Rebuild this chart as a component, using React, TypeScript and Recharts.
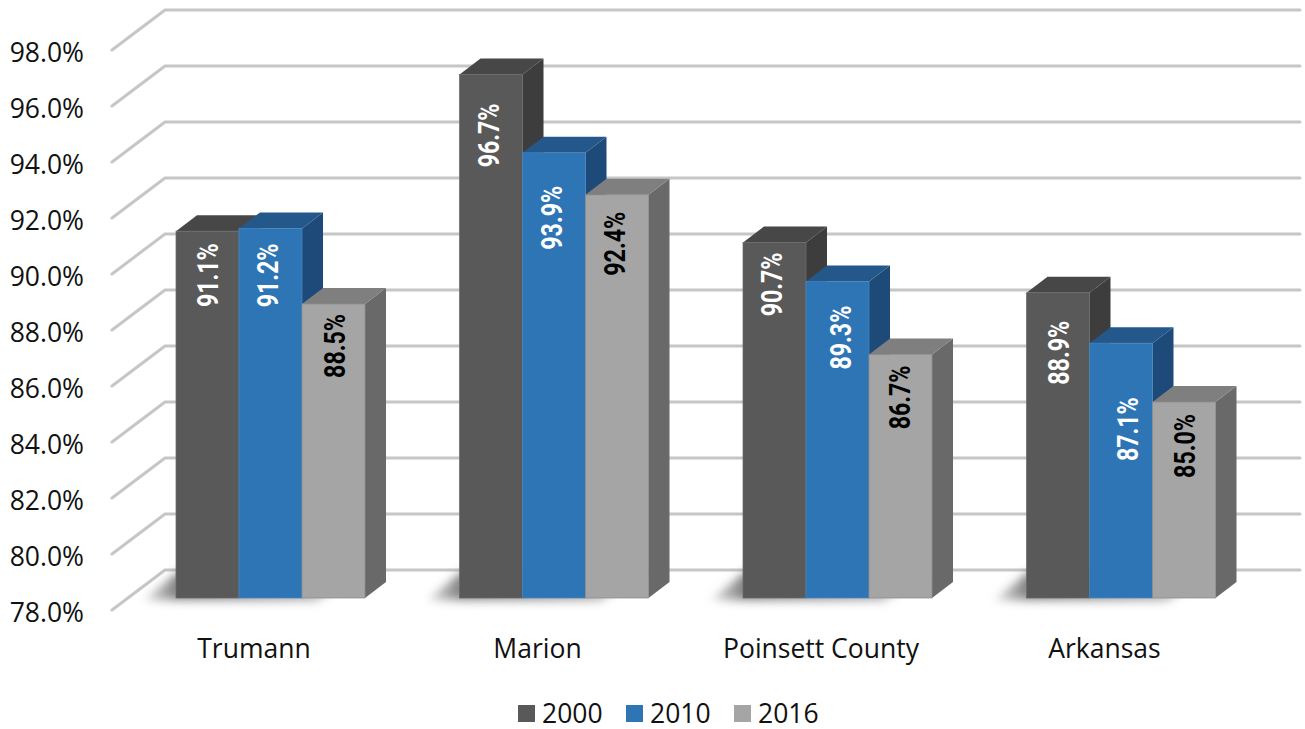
import React from 'react'
import { BarChart, Bar, XAxis, YAxis, CartesianGrid, Legend, LabelList } from 'recharts'

const regions = ['Trumann', 'Marion', 'Poinsett County', 'Arkansas']
const values2000 = [91.1, 96.7, 90.7, 88.9]
const values2010 = [91.2, 93.9, 89.3, 87.1]
const values2016 = [88.5, 92.4, 86.7, 85.0]
const yTicks = [78, 80, 82, 84, 86, 88, 90, 92, 94, 96, 98]

const chartData = regions.map((region, i) => ({
    region,
    y2000: values2000[i],
    y2010: values2010[i],
    y2016: values2016[i],
}))

// extrusion of each bar and of the back wall
const DEPTH_X = 21
const DEPTH_Y = 16
const FONT = '"Open Sans", sans-serif'

// hand-placed value labels: distance below the bar top, shift from the bar centre
const labelInset2000 = [11, 28, 9, 27]
const labelInset2010 = [14, 32, 23, 53]
const labelInset2016 = [9, 16, 10, 11]
const labelShift2000 = [0.5, -2.5, -2.5, 1]
const labelShift2010 = [-3, -2.5, 3.5, 6.5]
const labelShift2016 = [1, -2, -1, 1]

const palette2000 = { front: '#595959', top: '#474747', side: '#3d3d3d', edge: '#6b6b6b' }
const palette2010 = { front: '#2e75b6', top: '#25588a', side: '#1d4a78', edge: '#4a86bd' }
const palette2016 = { front: '#a5a5a5', top: '#7f7f7f', side: '#696969', edge: '#8c8c8c' }

const makeBarShape = (colors: typeof palette2000, withShadow: boolean) => (props: any) => {
    const { x, y, width, height } = props
    const base = y + height
    const right = x + width
    return (
        <g>
            {withShadow && (
                <polygon
                    points={`${x - 32},${base + 2} ${x + 2},${base - 26} ${x + 190},${base - 26} ${x + 140},${base + 3}`}
                    fill="url(#floorShade)"
                    fillOpacity={0.7}
                    filter="url(#floorBlur)"
                />
            )}
            <polygon
                points={`${right},${y} ${right + DEPTH_X},${y - DEPTH_Y} ${right + DEPTH_X},${base - DEPTH_Y} ${right},${base}`}
                fill={colors.side}
            />
            <polygon
                points={`${x},${y} ${x + DEPTH_X},${y - DEPTH_Y} ${right + DEPTH_X},${y - DEPTH_Y} ${right},${y}`}
                fill={colors.top}
            />
            <rect x={x} y={y} width={width} height={height} fill={colors.front} stroke={colors.edge} strokeWidth={0.75} />
        </g>
    )
}

const makeValueLabel = (color: string, insets: number[], shifts: number[]) => (props: any) => {
    const { x, y, width, value, index } = props
    const cx = x + width / 2 + shifts[index]
    const cy = y + insets[index] + 33
    return (
        <text
            transform={`translate(${cx},${cy}) rotate(-90) scale(0.8,1)`}
            textAnchor="middle"
            dy="0.36em"
            fontFamily="Roboto, sans-serif"
            fontWeight={700}
            fontSize={29}
            fill={color}
        >
            {`${Number(value).toFixed(1)}%`}
        </text>
    )
}

// the wall and floor lines fold forward from the back plane to the left edge
const wallLine = (props: any) => {
    const { y1, key } = props
    return (
        <polyline
            key={key}
            points={`112,${y1 + 12} 165,${y1 - 28} 1300,${y1 - 28}`}
            fill="none"
            stroke="#c6c6c6"
            strokeWidth={3}
            strokeLinecap="round"
            strokeLinejoin="round"
        />
    )
}

const PercentTick = (props: any) => (
    <text x={84} y={props.y + 14} dy="0.36em" textAnchor="end" fontFamily={FONT} fontSize={26.5} fill="#111">
        {`${props.payload.value.toFixed(1)}%`}
    </text>
)

const RegionTick = (props: any) => (
    <text x={props.x - 16.5} y={648} dy="0.36em" textAnchor="middle" fontFamily={FONT} fontSize={26.5} fill="#111">
        {props.payload.value}
    </text>
)

const LegendRow = ({ payload }: any) => (
    <div style={{ display: 'flex', fontFamily: FONT, fontSize: 26.5, color: '#111', lineHeight: '34px' }}>
        {(payload || []).map((entry: any) => (
            <div key={entry.value} style={{ display: 'flex', alignItems: 'center', marginRight: 23.4 }}>
                <span style={{ width: 17, height: 17, background: entry.color, marginRight: 7, display: 'block' }} />
                <span>{entry.value}</span>
            </div>
        ))}
    </div>
)

export default function App() {
    return (
        <div style={{ position: 'absolute', left: 0, top: 0 }}>
            <BarChart
                width={1305}
                height={729}
                data={chartData}
                margin={{ top: 38, right: 42.25, bottom: 101, left: 48.75 }}
                barCategoryGap="16.67%"
                barGap={0}
            >
                <defs>
                    <filter id="floorBlur" x="-20%" y="-100%" width="140%" height="300%">
                        <feGaussianBlur stdDeviation="5" />
                    </filter>
                    <linearGradient id="floorShade" x1="0" y1="0" x2="1" y2="0">
                        <stop offset="0" stopColor="#d0d0d0" />
                        <stop offset="0.15" stopColor="#4a4a4a" />
                        <stop offset="0.7" stopColor="#8a8a8a" />
                        <stop offset="1" stopColor="#c8c8c8" />
                    </linearGradient>
                </defs>
                <CartesianGrid vertical={false} horizontal={wallLine} />
                <XAxis dataKey="region" axisLine={false} tickLine={false} tick={<RegionTick />} interval={0} />
                <YAxis
                    domain={[78, 98]}
                    ticks={yTicks}
                    width={80}
                    axisLine={false}
                    tickLine={false}
                    tick={<PercentTick />}
                    interval={0}
                />
                <Legend
                    verticalAlign="middle"
                    content={<LegendRow />}
                    wrapperStyle={{ top: 696, left: 518, width: 400 }}
                />
                <Bar dataKey="y2000" name="2000" fill={palette2000.front} isAnimationActive={false} shape={makeBarShape(palette2000, true)}>
                    <LabelList dataKey="y2000" content={makeValueLabel('#ffffff', labelInset2000, labelShift2000)} />
                </Bar>
                <Bar dataKey="y2010" name="2010" fill={palette2010.front} isAnimationActive={false} shape={makeBarShape(palette2010, false)}>
                    <LabelList dataKey="y2010" content={makeValueLabel('#ffffff', labelInset2010, labelShift2010)} />
                </Bar>
                <Bar dataKey="y2016" name="2016" fill={palette2016.front} isAnimationActive={false} shape={makeBarShape(palette2016, false)}>
                    <LabelList dataKey="y2016" content={makeValueLabel('#000000', labelInset2016, labelShift2016)} />
                </Bar>
            </BarChart>
        </div>
    )
}
